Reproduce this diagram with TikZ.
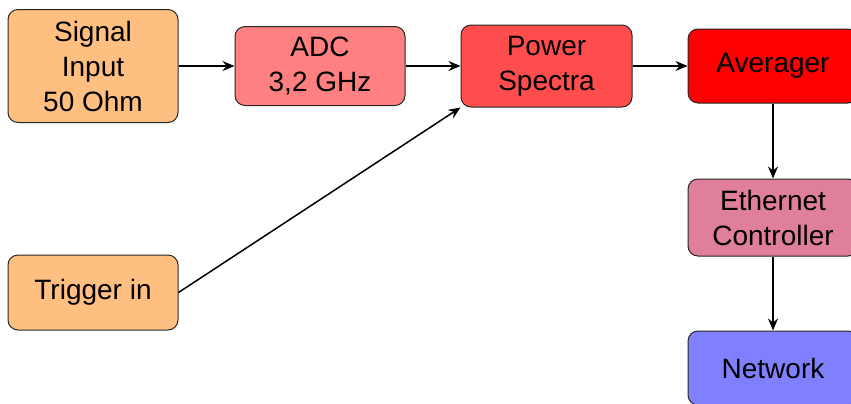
\documentclass[tikz,border=0pt]{standalone}
\usepackage{fontspec}
\setmainfont{Liberation Sans}
\usetikzlibrary{arrows.meta}
\definecolor{inorange}{RGB}{255,191,128}
\definecolor{adcred}{RGB}{255,128,128}
\definecolor{powred}{RGB}{255,77,77}
\definecolor{avgred}{RGB}{255,0,0}
\definecolor{ethpink}{RGB}{223,127,155}
\definecolor{netblue}{RGB}{128,128,255}
\begin{document}
\begin{tikzpicture}[x=0.5pt,y=-0.5pt,
  block/.style={draw=black!85, line width=0.5pt, rounded corners=5pt,
    minimum width=85pt, inner sep=0pt, align=center,
    font=\fontsize{14}{17.5}\selectfont},
  link/.style={-{Stealth[length=6pt,width=5pt,inset=2pt]}, line width=0.75pt}]
\useasboundingbox (0,0) rectangle (851,403);
\node[block, fill=inorange, minimum height=56.5pt] (sig) at (93,66) {Signal\\Input\\50 Ohm};
\node[block, fill=adcred, minimum height=39.5pt] (adc) at (320,66) {ADC\\3,2 GHz};
\node[block, fill=powred, minimum height=41pt, minimum width=85.5pt] (pow) at (546.5,66) {Power\\Spectra};
\node[block, fill=avgred, minimum height=37pt] (avg) at (773,66) {Averager};
\node[block, fill=ethpink, minimum height=38.5pt] (eth) at (773,217.5) {Ethernet\\Controller};
\node[block, fill=netblue, minimum height=37pt] (net) at (773,368) {Network};
\node[block, fill=inorange, minimum height=37.5pt] (trig) at (93,292.5) {Trigger in};
\draw[link] (sig) -- (adc);
\draw[link] (adc) -- (pow);
\draw[link] (pow) -- (avg);
\draw[link] (avg) -- (eth);
\draw[link] (eth) -- (net);
\draw[link] (trig.east) -- (pow.south west);
\end{tikzpicture}
\end{document}
